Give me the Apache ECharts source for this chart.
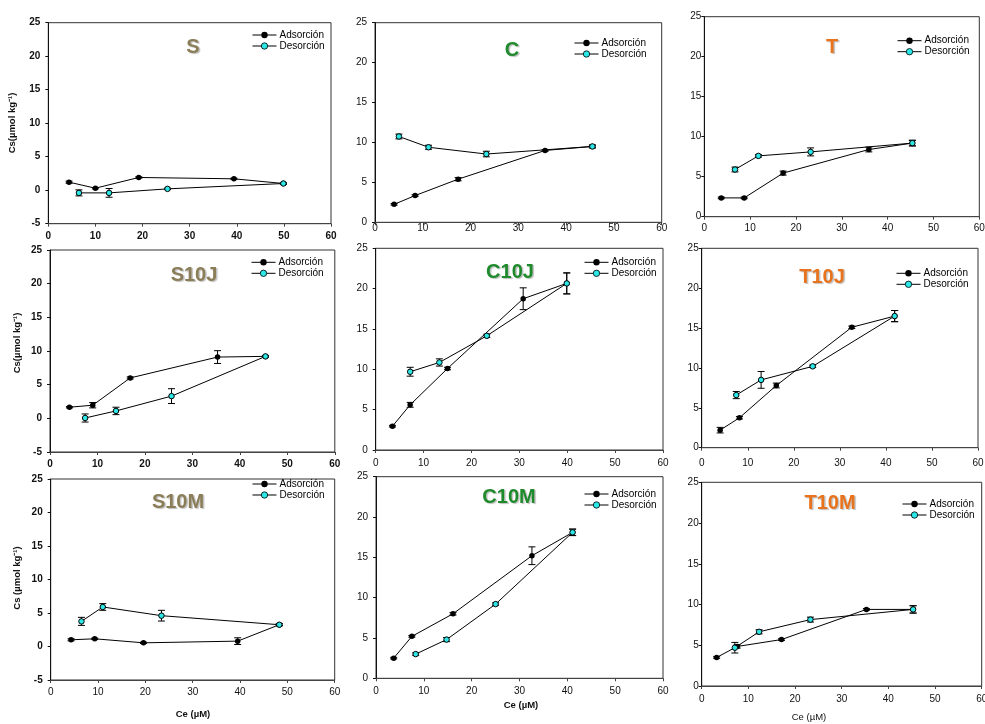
<!DOCTYPE html>
<html><head><meta charset="utf-8">
<script src="https://cdn.jsdelivr.net/npm/echarts@6/dist/echarts.min.js"></script>
<style>html,body{margin:0;padding:0;background:#fff}#c{width:985px;height:724px}</style>
</head><body><div id="c"></div>
<script>
// ---- tick labels ----
const xTicks = [0, 10, 20, 30, 40, 50, 60];
const yTicksS = [-5, 0, 5, 10, 15, 20, 25];
const yTicksCT = [0, 5, 10, 15, 20, 25];
const seriesNames = ['Adsorción', 'Desorción'];
const panelTitles = ['S', 'C', 'T', 'S10J', 'C10J', 'T10J', 'S10M', 'C10M', 'T10M'];

// ---- data: [Ce, Cs, error] ----
const S_ads = [[4.4,1.2,0.15],[10.0,0.3,0.1],[19.2,1.9,0.1],[39.4,1.7,0.1],[49.9,1.0,0.1]];
const S_des = [[49.9,1.0,0.1],[25.3,0.2,0.1],[12.9,-0.4,0.65],[6.5,-0.4,0.45]];
const C_ads = [[4.0,2.25,0.1],[8.4,3.35,0.1],[17.4,5.4,0.2],[35.6,9.0,0.1],[45.5,9.5,0.1]];
const C_des = [[45.5,9.5,0.2],[23.3,8.55,0.35],[11.2,9.4,0.25],[5.0,10.75,0.3]];
const T_ads = [[3.7,2.35,0.1],[8.7,2.35,0.1],[17.2,5.45,0.25],[35.9,8.4,0.3],[45.4,9.2,0.35]];
const T_des = [[45.4,9.2,0.35],[23.2,8.1,0.5],[11.8,7.6,0.15],[6.7,5.9,0.3]];
const S10J_ads = [[4.1,1.65,0.1],[9.0,1.95,0.4],[16.9,6.0,0.15],[35.3,9.1,0.95],[45.4,9.2,0.1]];
const S10J_des = [[45.4,9.2,0.1],[25.6,3.3,1.1],[13.9,1.1,0.55],[7.4,0.05,0.6]];
const C10J_ads = [[3.5,2.95,0.1],[7.2,5.6,0.3],[15.0,10.1,0.15],[30.8,18.75,1.35],[39.9,20.65,1.3]];
const C10J_des = [[39.9,20.65,1.3],[23.2,14.15,0.2],[13.3,10.85,0.45],[7.2,9.7,0.55]];
const T10J_ads = [[4.0,2.2,0.35],[8.2,3.75,0.15],[16.2,7.8,0.3],[32.6,15.1,0.15],[41.9,16.5,0.7]];
const T10J_des = [[41.9,16.5,0.7],[24.1,10.2,0.15],[12.9,8.5,1.05],[7.5,6.6,0.45]];
const S10M_ads = [[4.3,1.0,0.15],[9.3,1.15,0.1],[19.6,0.55,0.1],[39.5,0.8,0.5],[48.3,3.25,0.15]];
const S10M_des = [[48.3,3.25,0.15],[23.4,4.6,0.8],[11.0,5.9,0.5],[6.5,3.75,0.6]];
const C10M_ads = [[3.7,2.5,0.1],[7.5,5.2,0.1],[16.1,8.0,0.15],[32.6,15.2,1.1],[41.1,18.1,0.4]];
const C10M_des = [[41.1,18.1,0.4],[25.0,9.2,0.15],[14.75,4.8,0.25],[8.3,3.0,0.15]];
const T10M_ads = [[3.2,3.5,0.1],[7.6,4.85,0.2],[17.1,5.7,0.1],[35.3,9.4,0.1],[45.3,9.4,0.45]];
const T10M_des = [[45.3,9.4,0.45],[23.3,8.15,0.3],[12.3,6.65,0.25],[7.1,4.7,0.65]];

const FONT = "'Liberation Sans', Arial, Helvetica, sans-serif";
const OLIVE = '#8a7d57', GREEN = '#1f8a2c', ORANGE = '#e8731c';

// layout / style per panel (positions kept separate from the data)
const panels = [
  {ads:S_ads,    des:S_des,    yt:yTicksS,  g:[48.3,22.7,282.7,201.0], tc:OLIVE,  bx:true,  by:true,  xm:8,   ym:8, leg:[252,36],    tp:[193,47]},
  {ads:C_ads,    des:C_des,    yt:yTicksCT, g:[375,22.7,286.7,199.6],  tc:GREEN,  bx:false, by:false, xm:1,   ym:8, leg:[574,44],    tp:[512,50]},
  {ads:T_ads,    des:T_des,    yt:yTicksCT, g:[704.3,16.7,275,200],    tc:ORANGE, bx:false, by:false, xm:7,   ym:3, leg:[897,41.7],  tp:[832,47]},
  {ads:S10J_ads, des:S10J_des, yt:yTicksS,  g:[50,250,284.8,202],      tc:OLIVE,  bx:true,  by:true,  xm:7,   ym:8, leg:[251,263.3], tp:[194,275]},
  {ads:C10J_ads, des:C10J_des, yt:yTicksCT, g:[375.7,248.3,287.3,201.7],tc:GREEN, bx:false, by:false, xm:8,   ym:8, leg:[584,263.3], tp:[510,272]},
  {ads:T10J_ads, des:T10J_des, yt:yTicksCT, g:[701.7,248.3,276.3,199.4],tc:ORANGE,bx:false, by:false, xm:11,  ym:3, leg:[896,274.3], tp:[822,277]},
  {ads:S10M_ads, des:S10M_des, yt:yTicksS,  g:[50.7,479,284,201],      tc:OLIVE,  bx:false, by:true,  xm:7,   ym:8, leg:[252,485],   tp:[178,502]},
  {ads:C10M_ads, des:C10M_des, yt:yTicksCT, g:[376,476.7,287,201.6],   tc:GREEN,  bx:false, by:false, xm:7.5, ym:8, leg:[584,495],   tp:[509,497]},
  {ads:T10M_ads, des:T10M_des, yt:yTicksCT, g:[701.7,482.3,280,203.7], tc:ORANGE, bx:false, by:false, xm:8,   ym:3, leg:[902,505],   tp:[830,503]}
];

function renderErr(params, api) {
  const x = api.value(0), y = api.value(1), e = api.value(2);
  const hi = api.coord([x, y + e]);
  const lo = api.coord([x, y - e]);
  const w = 3.5;
  const st = {stroke:'#000', lineWidth:1};
  return {type:'group', children:[
    {type:'line', shape:{x1:hi[0], y1:hi[1], x2:lo[0], y2:lo[1]}, style:st},
    {type:'line', shape:{x1:hi[0]-w, y1:hi[1], x2:hi[0]+w, y2:hi[1]}, style:st},
    {type:'line', shape:{x1:lo[0]-w, y1:lo[1], x2:lo[0]+w, y2:lo[1]}, style:st}
  ]};
}

const grid = [], xAxis = [], yAxis = [], series = [], legend = [], graphic = [];
panels.forEach((p, i) => {
  grid.push({left:p.g[0], top:p.g[1], width:p.g[2], height:p.g[3], show:true,
    borderColor:'#333', borderWidth:1, outerBoundsMode:'none', containLabel:false});
  xAxis.push({gridIndex:i, type:'value', min:xTicks[0], max:xTicks[xTicks.length-1],
    interval:xTicks[1]-xTicks[0],
    axisLine:{onZero:false, lineStyle:{color:'#444', width:1}},
    axisTick:{show:true, length:3, lineStyle:{color:'#444'}},
    axisLabel:{fontSize:10, fontWeight:p.bx?'bold':'normal', fontFamily:FONT, color:'#111', margin:p.xm,
      showMinLabel:true, showMaxLabel:true},
    splitLine:{show:false}});
  yAxis.push({gridIndex:i, type:'value', min:p.yt[0], max:p.yt[p.yt.length-1], interval:p.yt[1]-p.yt[0],
    axisLine:{onZero:false, lineStyle:{color:'#111', width:1}},
    axisTick:{show:true, length:3, lineStyle:{color:'#111'}},
    axisLabel:{fontSize:10, fontWeight:p.by?'bold':'normal', fontFamily:FONT, color:'#111', margin:p.ym,
      showMinLabel:true, showMaxLabel:true},
    splitLine:{show:false}});
  series.push({type:'custom', xAxisIndex:i, yAxisIndex:i, renderItem:renderErr,
    data:p.ads.concat(p.des), z:2, silent:true, animation:false});
  series.push({type:'line', name:seriesNames[0], xAxisIndex:i, yAxisIndex:i,
    data:p.ads.map(d => [d[0], d[1]]), symbol:'circle', symbolSize:5.5, showSymbol:true,
    lineStyle:{color:'#000', width:1}, itemStyle:{color:'#000'}, z:3, animation:false});
  series.push({type:'line', name:seriesNames[1], xAxisIndex:i, yAxisIndex:i,
    data:p.des.map(d => [d[0], d[1]]), symbol:'circle', symbolSize:5.5, showSymbol:true,
    lineStyle:{color:'#000', width:1}, itemStyle:{color:'#2de6e6', borderColor:'#000', borderWidth:1}, z:4, animation:false});
  legend.push({orient:'vertical', left:p.leg[0], top:p.leg[1]-6, itemWidth:24, itemHeight:8, itemGap:1,
    padding:0, selectedMode:false, data:seriesNames,
    lineStyle:{width:1, color:'#000'},
    itemStyle:{borderWidth:0.8},
    textStyle:{fontSize:10, fontFamily:FONT, color:'#000', padding:[0,0,0,-2]}});
  graphic.push({type:'text', x:p.tp[0], y:p.tp[1], z:10, style:{text:panelTitles[i], fill:p.tc,
    font:'bold 20px ' + FONT, align:'center', verticalAlign:'middle',
    textShadowColor:'rgba(0,0,0,0.25)', textShadowOffsetX:1.5, textShadowOffsetY:1.5, textShadowBlur:1}});
});

// axis titles
const yNamePos = [[12,123],[17,343],[17,578]];
const yNameText = ['Cs(µmol kg⁻¹)', 'Cs(µmol kg⁻¹)', 'Cs (µmol kg⁻¹)'];
yNamePos.forEach((q, k) => graphic.push({type:'text', x:q[0], y:q[1], rotation:Math.PI/2,
  style:{text:yNameText[k], fill:'#111', font:'bold 9.5px ' + FONT, align:'center', verticalAlign:'middle'}}));
graphic.push({type:'text', x:193, y:714, style:{text:'Ce (µM)', fill:'#111', font:'bold 9.5px ' + FONT, align:'center', verticalAlign:'middle'}});
graphic.push({type:'text', x:521, y:705, style:{text:'Ce (µM)', fill:'#111', font:'bold 9.5px ' + FONT, align:'center', verticalAlign:'middle'}});
graphic.push({type:'text', x:809, y:717, style:{text:'Ce (µM)', fill:'#111', font:'9.5px ' + FONT, align:'center', verticalAlign:'middle'}});

const chart = echarts.init(document.getElementById('c'));
chart.setOption({backgroundColor:'#fff', animation:false, grid, xAxis, yAxis, series, legend, graphic});
</script></body></html>
